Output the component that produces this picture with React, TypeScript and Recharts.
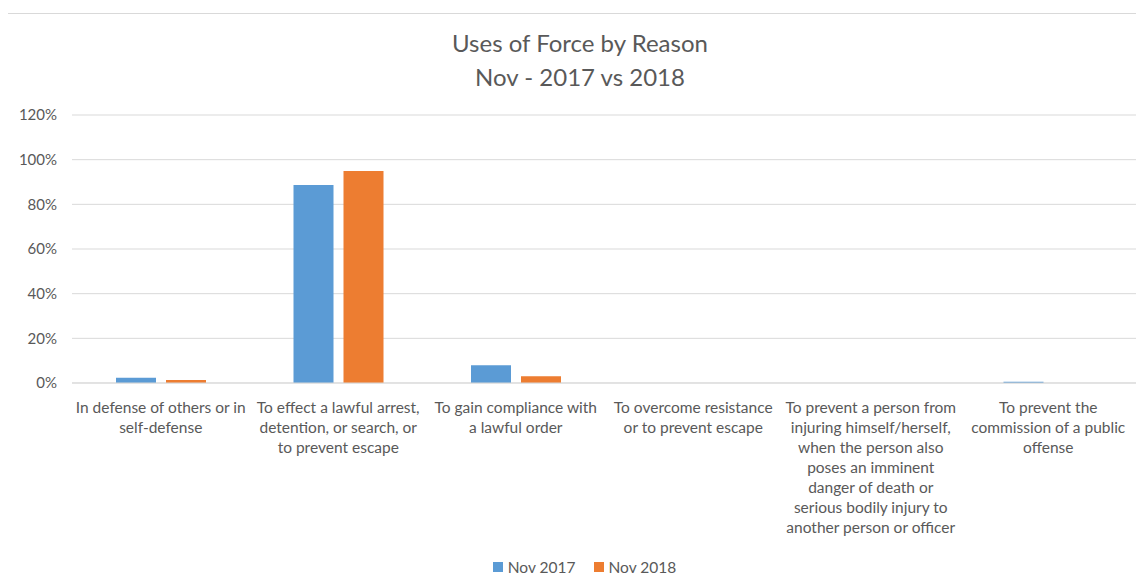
import { BarChart, Bar, XAxis, YAxis, CartesianGrid, Legend } from "recharts";

const categories: string[][] = [
  ["In defense of others or in", "self-defense"],
  ["To effect a lawful arrest,", "detention, or search, or", "to prevent escape"],
  ["To gain compliance with", "a lawful order"],
  ["To overcome resistance", "or to prevent escape"],
  [
    "To prevent a person from",
    "injuring himself/herself,",
    "when the person also",
    "poses an imminent",
    "danger of death or",
    "serious bodily injury to",
    "another person or officer",
  ],
  ["To prevent the", "commission of a public", "offense"],
];

const nov2017 = [0.024, 0.887, 0.079, 0, 0, 0.006];
const nov2018 = [0.013, 0.949, 0.03, 0, 0, 0];

const yTicks = [0, 0.2, 0.4, 0.6, 0.8, 1.0, 1.2];

const data = categories.map((lines, i) => ({
  name: lines.join(" "),
  nov2017: nov2017[i],
  nov2018: nov2018[i],
}));

const FONT = "Lato, 'Open Sans', sans-serif";
const TEXT = "#595959";
const GRID = "#d9d9d9";
const BLUE = "#5b9bd5";
const ORANGE = "#ed7d31";

function CategoryTick(props: any) {
  const { x, y, payload } = props;
  const lines = categories[payload.index] ?? [payload.value];
  return (
    <g transform={`translate(${x},${y})`}>
      {lines.map((line, i) => (
        <text
          key={i}
          x={0}
          y={28 + i * 20}
          textAnchor="middle"
          fill={TEXT}
          fontSize={15.5}
          fontFamily={FONT}
        >
          {line}
        </text>
      ))}
    </g>
  );
}

function LegendContent() {
  const items = [
    { label: "Nov 2017", color: BLUE },
    { label: "Nov 2018", color: ORANGE },
  ];
  return (
    <div
      style={{
        height: 22,
        display: "flex",
        justifyContent: "center",
        alignItems: "center",
        gap: 18,
        paddingLeft: 24,
        fontFamily: FONT,
        fontSize: 15.5,
        color: TEXT,
      }}
    >
      {items.map((it) => (
        <span key={it.label} style={{ display: "flex", alignItems: "center", gap: 5 }}>
          <span style={{ width: 10, height: 10, background: it.color, display: "inline-block" }} />
          {it.label}
        </span>
      ))}
    </div>
  );
}

export default function App() {
  return (
    <div style={{ position: "relative", width: 1136, height: 578 }}>
      <div
        style={{
          position: "absolute",
          left: -1,
          top: 5,
          width: 1136,
          height: 573,
          borderLeft: `1px solid ${GRID}`,
          borderTop: `1px solid ${GRID}`,
          boxSizing: "border-box",
        }}
      />
      <div
        style={{
          position: "absolute",
          left: 0,
          width: 1144,
          top: 18,
          textAlign: "center",
          fontFamily: FONT,
          fontSize: 24,
          lineHeight: "34px",
          color: TEXT,
        }}
      >
        <div>Uses of Force by Reason</div>
        <div>Nov - 2017 vs 2018</div>
      </div>
      <BarChart
        width={1136}
        height={578}
        data={data}
        margin={{ top: 107, right: 7, left: 0, bottom: 8 }}
        barGap={10}
      >
        <CartesianGrid vertical={false} stroke={GRID} />
        <XAxis
          dataKey="name"
          interval={0}
          tickLine={false}
          tickSize={0}
          tick={<CategoryTick />}
          height={173}
          axisLine={{ stroke: GRID }}
        />
        <YAxis
          domain={[0, 1.2]}
          ticks={yTicks}
          tickFormatter={(v: number) => `${Math.round(v * 100)}%`}
          tick={{ fill: TEXT, fontSize: 15, fontFamily: FONT }}
          tickLine={false}
          tickSize={0}
          tickMargin={15}
          axisLine={false}
          width={64}
        />
        <Legend verticalAlign="bottom" content={<LegendContent />} />
        <Bar dataKey="nov2017" name="Nov 2017" fill={BLUE} barSize={40} isAnimationActive={false} />
        <Bar dataKey="nov2018" name="Nov 2018" fill={ORANGE} barSize={40} isAnimationActive={false} />
      </BarChart>
    </div>
  );
}
